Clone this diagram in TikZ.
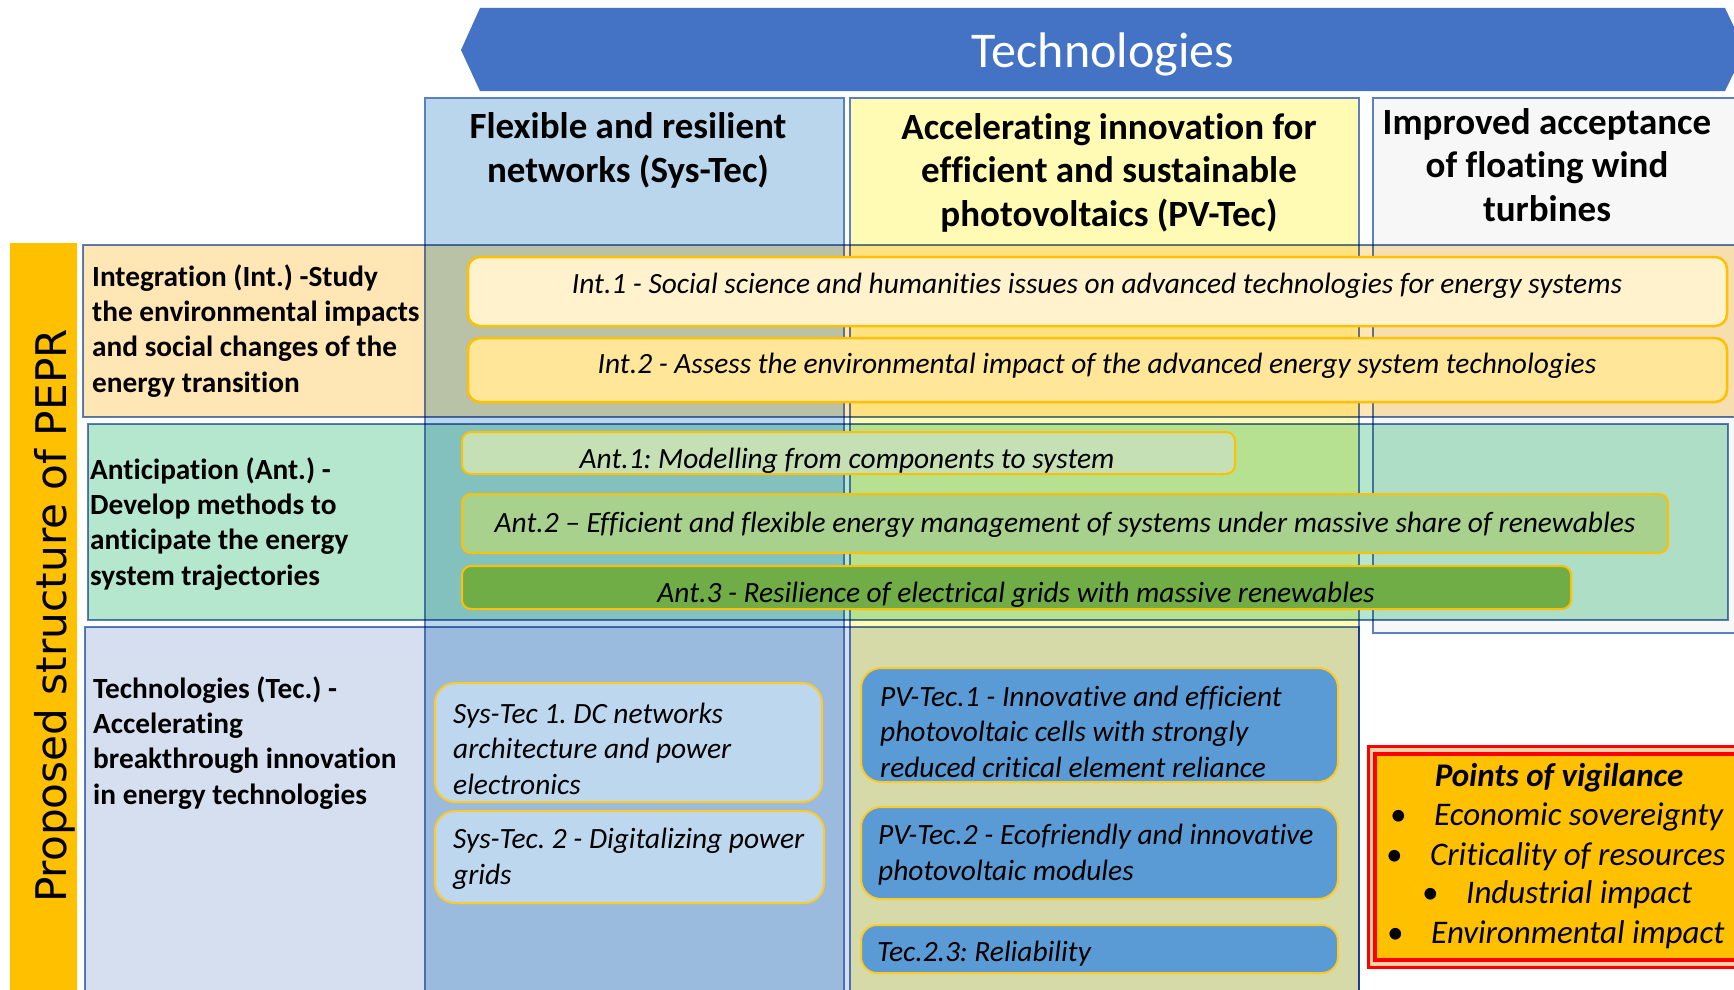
\documentclass[tikz,border=0pt]{standalone}
\usepackage{fontspec}
\setmainfont{Carlito}[Ligatures=NoCommon]
\newfontfamily\peprfont{DejaVu Sans}
\usepackage{tikz}
\definecolor{bannerblue}{HTML}{4472C4}
\definecolor{gridblue}{HTML}{5B7FC0}
\definecolor{syshead}{HTML}{B9D6EC}
\definecolor{pvhead}{HTML}{FFFAB4}
\definecolor{windhead}{HTML}{F7F7F7}
\definecolor{introw}{HTML}{FFE6B4}
\definecolor{antrow}{HTML}{B5E6CE}
\definecolor{tecrow}{HTML}{D6DFF0}
\definecolor{gold}{HTML}{FFC000}
\definecolor{intone}{HTML}{FFF2CC}
\definecolor{inttwo}{HTML}{FFE699}
\definecolor{antone}{HTML}{C5E0B4}
\definecolor{anttwo}{HTML}{A9D18E}
\definecolor{antthree}{HTML}{70AD47}
\definecolor{sysbox}{HTML}{BDD7EE}
\definecolor{pvbox}{HTML}{5B9BD5}
\definecolor{vigil}{HTML}{FFC000}
\definecolor{vigilgap}{HTML}{FFD0A8}
\tikzset{
	x=1pt, y=-1pt,
	gridline/.style={draw=gridblue, line width=2pt},
	intbox/.style={draw=gold, line width=2.5pt, rounded corners=12pt},
	antbox/.style={draw=gold, line width=2pt, rounded corners=9pt},
	tecbox/.style={draw=gold!85, line width=2pt, rounded corners=20pt},
	boxtext/.style={anchor=base, inner sep=0pt, font=\fontsize{29.4}{35.5}\selectfont\itshape},
	tectext/.style={anchor=base west, align=left, inner sep=0pt, font=\fontsize{29.4}{35.5}\selectfont\itshape},
	rowlabel/.style={anchor=base west, align=left, inner sep=0pt, font=\fontsize{29.3}{35.3}\selectfont\bfseries},
	colhead/.style={anchor=base, align=center, inner sep=0pt, font=\fontsize{37}{43.7}\selectfont\bfseries},
	vigitem/.style={anchor=base west, inner sep=0pt, font=\fontsize{33}{39}\selectfont\itshape},
}
\newcommand{\vbullet}{\llap{\textbullet\hspace{28pt}}}

\begin{document}
\frenchspacing
\begin{tikzpicture}
	\useasboundingbox (0,0) rectangle (1734,990);

	% banner
	\fill[bannerblue] (480,8) -- (1725,8) -- (1745,50) -- (1725,91) -- (480,91) -- (461,50) -- cycle;
	\node[anchor=base, inner sep=0pt, text=white, font=\fontsize{50}{60}\selectfont] (banner) at (1103,67) {Technologies};

	% columns
	\draw[gridline, fill=syshead] (425,98) rectangle (844,1000);
	\draw[gridline, fill=pvhead] (850,98) rectangle (1359,1000);
	\draw[gridline, fill=windhead] (1373,98) rectangle (1745,633);
	\node[colhead] (syshd) at (628,182.5) {Flexible and resilient\\networks (Sys-Tec)};
	\node[colhead] (pvhd) at (1109,226.5) {Accelerating innovation for\\efficient and sustainable\\photovoltaics (PV-Tec)};
	\node[colhead] (windhd) at (1547,221.5) {Improved acceptance\\of floating wind\\turbines};

	% rows
	\begin{scope}[blend mode=multiply]
		\draw[gridline, fill=introw] (83,245) rectangle (1745,417);
		\draw[gridline, fill=antrow] (88,424) rectangle (1728,620);
		\draw[gridline, fill=tecrow] (85,627) rectangle (1359,1000);
	\end{scope}
	\node[rowlabel] (intlbl) at (92,392) {Integration (Int.) -Study\\the environmental impacts\\and social changes of the\\energy transition};
	\node[rowlabel] (antlbl) at (90,585) {Anticipation (Ant.) -\\Develop methods to\\anticipate the energy\\system trajectories};
	\node[rowlabel] (teclbl) at (93,804) {Technologies (Tec.) -\\Accelerating\\breakthrough innovation\\in energy technologies};

	% side bar
	\fill[gold] (10,243) rectangle (77,1000);
	\node[rotate=90, anchor=base, inner sep=0pt, font=\peprfont\fontsize{42.2}{50}\selectfont] (pepr) at (66,616) {Proposed structure of PEPR};

	% integration tasks
	\draw[intbox, fill=intone] (468,257) rectangle (1727,326);
	\node[boxtext] (intone) at (1097,293) {Int.1 - Social science and humanities issues on advanced technologies for energy systems};
	\draw[intbox, fill=inttwo] (468,338) rectangle (1727,402);
	\node[boxtext] (inttwo) at (1097,373) {Int.2 - Assess the environmental impact of the advanced energy system technologies};

	% anticipation tasks
	\draw[antbox, fill=antone] (462,432) rectangle (1235,474);
	\node[boxtext] (antone) at (847,468) {Ant.1: Modelling from components to system};
	\draw[antbox, fill=anttwo] (462,494) rectangle (1668,553);
	\node[boxtext] (anttwo) at (1065,532) {Ant.2 – Efficient and flexible energy management of systems under massive share of renewables};
	\draw[antbox, fill=antthree] (462,566) rectangle (1571,609);
	\node[boxtext] (antthree) at (1016,602) {Ant.3 - Resilience of electrical grids with massive renewables};

	% technology tasks
	\draw[tecbox, fill=sysbox] (435,683) rectangle (822,802);
	\node[tectext] (sysone) at (453,794) {Sys-Tec 1. DC networks\\architecture and power\\electronics};
	\draw[tecbox, fill=sysbox] (435,811) rectangle (824,903);
	\node[tectext] (systwo) at (453,884) {Sys-Tec. 2 - Digitalizing power\\grids};
	\draw[tecbox, fill=pvbox] (861,668) rectangle (1338,782);
	\node[tectext] (pvone) at (880,777) {PV-Tec.1 - Innovative and efficient\\photovoltaic cells with strongly\\reduced critical element reliance};
	\draw[tecbox, fill=pvbox] (861,807) rectangle (1338,899);
	\node[tectext] (pvtwo) at (878,880) {PV-Tec.2 - Ecofriendly and innovative\\photovoltaic modules};
	\draw[tecbox, rounded corners=16pt, fill=pvbox] (861,925) rectangle (1338,973);
	\node[tectext] (pvthree) at (877,961) {Tec.2.3: Reliability};

	% vigilance
	\draw[red, line width=3pt, fill=vigilgap] (1368.5,746.5) rectangle (1745,967);
	\draw[red, line width=4pt, fill=vigil] (1375,754) rectangle (1745,960);
	\node[anchor=base, inner sep=0pt, font=\fontsize{33}{39}\selectfont\bfseries\itshape] (vigtitle) at (1559,786) {Points of vigilance};
	\node[vigitem] (ecosov) at (1434,825) {\vbullet Economic sovereignty};
	\node[vigitem] (critres) at (1430,865) {\vbullet Criticality of resources};
	\node[vigitem] (indimp) at (1466,903) {\vbullet Industrial impact};
	\node[vigitem] (envimp) at (1431,943) {\vbullet Environmental impact};
\end{tikzpicture}
\end{document}
